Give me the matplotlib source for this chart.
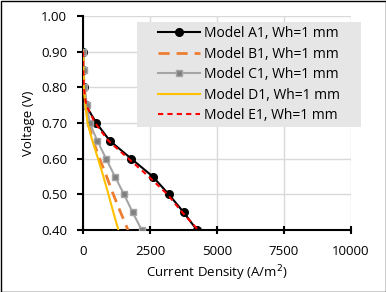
import matplotlib
matplotlib.use("Agg")
import matplotlib.pyplot as plt
from matplotlib.patches import Rectangle

plt.rcParams['font.family'] = ['Open Sans', 'DejaVu Sans']

voltage = [0.90, 0.85, 0.80, 0.75, 0.70, 0.65, 0.60, 0.55, 0.50, 0.45, 0.40]
a1 = [0, 10, 30, 100, 500, 1000, 1800, 2600, 3200, 3750, 4250]
b1 = [0, 15, 40, 110, 200, 380, 620, 880, 1130, 1400, 1680]
c1 = [0, 25, 50, 150, 250, 535, 860, 1190, 1530, 1850, 2190]
d1 = [0, 15, 35, 90, 170, 350, 560, 760, 950, 1130, 1320]
e1 = [0, 10, 30, 120, 450, 950, 1700, 2450, 3150, 3700, 4300]
labels = ["Model A1, Wh=1 mm", "Model B1, Wh=1 mm", "Model C1, Wh=1 mm",
          "Model D1, Wh=1 mm", "Model E1, Wh=1 mm"]
xticks = [0, 2500, 5000, 7500, 10000]
yticks = [0.40, 0.50, 0.60, 0.70, 0.80, 0.90, 1.00]

W, H = 386, 292
fig = plt.figure(figsize=(W/100, H/100), dpi=100)
ax = fig.add_axes([83/W, 1-230/H, (351-83)/W, (230-16)/H])

ax.plot(a1, voltage, color='black', lw=1.5, marker='o', ms=5.5, label=labels[0], zorder=3)
ax.plot(b1, voltage, color='#ED7D31', lw=2, ls=(0, (4, 2.5)), label=labels[1], zorder=3)
ax.plot(c1, voltage, color='#A5A5A5', lw=1.5, marker='s', ms=5, mfc='#7F7F7F', mec='#A5A5A5',
        label=labels[2], zorder=3)
ax.plot(d1, voltage, color='#FFC000', lw=1.5, label=labels[3], zorder=3)
ax.plot(e1, voltage, color='#FF0000', lw=1.5, ls=(0, (2.5, 2)), label=labels[4], zorder=4)

ax.set_xlim(0, 10000)
ax.set_ylim(0.40, 1.00)
ax.set_xticks(xticks)
ax.set_yticks(yticks)
ax.set_xticklabels([str(t) for t in xticks])
ax.set_yticklabels([f"{t:.2f}" for t in yticks])
ax.grid(True, color='#D9D9D9', lw=1)
ax.set_axisbelow(True)
for s in ['top', 'right']:
    ax.spines[s].set_visible(False)
for s in ['left', 'bottom']:
    ax.spines[s].set_linewidth(1.5)
ax.tick_params(axis='x', direction='inout', length=6, width=1.5, labelsize=9.5, pad=8)
ax.tick_params(axis='y', direction='out', length=4, width=1.5, labelsize=9.5, pad=7.5)
ax.set_xlabel("Current Density (A/m$^2$)", fontsize=9.5, labelpad=4)
ax.set_ylabel("Voltage (V)", fontsize=9.5, labelpad=4)

# legend background box
bg = Rectangle((137/W, 1-127/H), (361-137)/W, (127-22)/H, transform=fig.transFigure,
               facecolor='#E6E6E6', edgecolor='none', zorder=4.5, clip_on=False)
ax.add_patch(bg)

leg = ax.legend(loc='upper left', bbox_to_anchor=((158-83)/(351-83), (230-26)/(230-16)),
                fontsize=10, frameon=False, handlelength=3.0,
                borderpad=0, labelspacing=0.40, handletextpad=0.3, borderaxespad=0)
leg.set_zorder(5)

fig.patches.append(Rectangle((0.5/W, 0.5/H), 1-1/W, 1-1/H, transform=fig.transFigure,
                             fill=False, edgecolor='black', lw=1))
fig.savefig("out.png", dpi=100)
